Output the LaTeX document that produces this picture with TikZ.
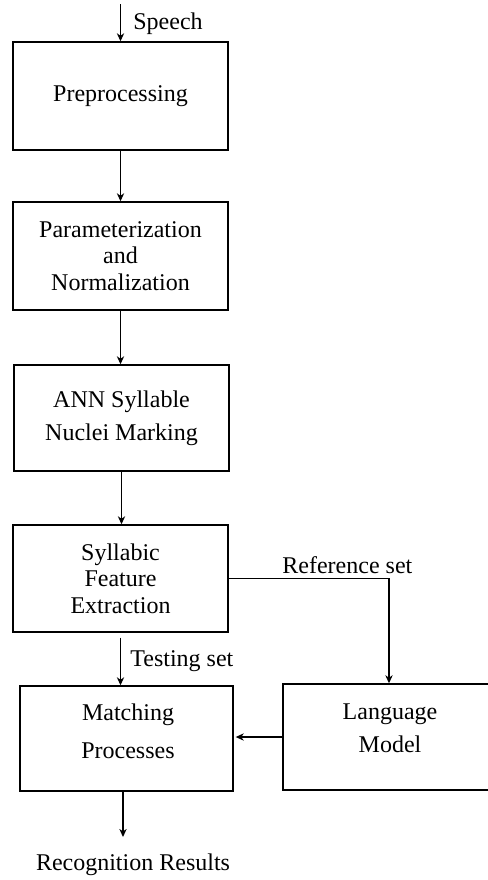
\documentclass[tikz,border=0pt]{standalone}
\usepackage{fontspec}
\setmainfont{Liberation Serif}
\usetikzlibrary{arrows.meta,calc}
\begin{document}
\begin{tikzpicture}[x=0.5pt,y=-0.5pt,
  box/.style={draw, line width=0.7pt, inner sep=0pt, align=center, minimum width=107.5pt, minimum height=54pt, font=\fontsize{12}{13.25}\selectfont},
  lbl/.style={inner sep=0pt, font=\fontsize{12}{13.25}\selectfont},
  arr/.style={draw, line width=0.7pt, -{Stealth[length=4pt,width=3.6pt,inset=1.2pt]}}]
\useasboundingbox (0,0) rectangle (488,880);

\node[box] (pre) at (120.5,96) {Preprocessing};
\node[box] (param) at (120.5,256) {Parameterization\\and\\Normalization};
\node[box, minimum height=53pt] (ann) at (121.5,418) {ANN Syllable\\[3.25pt]Nuclei Marking};
\node[box, minimum height=53.5pt] (syll) at (120.5,578.5) {Syllabic\\Feature\\Extraction};
\node[box, minimum width=106.5pt, minimum height=52.5pt] (match) at (126.5,738.5) {};
\node[lbl, align=center] (matchtxt) at (128,731) {Matching\\[5.75pt]Processes};
\node[box, minimum width=106pt, minimum height=53pt] (lang) at (389,737) {};
\node[lbl, align=center] (langtxt) at (390,728.5) {Language\\[3.25pt]Model};

\coordinate (src) at (120.5,4);
\draw[arr] (src) -- (pre.north);
\node[lbl, anchor=base west] (speech) at (133,29) {Speech};
\draw[arr] (pre.south) -- (param.north);
\draw[arr] (param.south) -- (param.south |- ann.north);
\draw[arr] (ann.south) -- (ann.south |- syll.north);
\draw[arr] (syll.east) -| (lang.north);
\node[lbl, anchor=base west] (refl) at (282,573) {Reference set};
\draw[arr, shorten <=2.5pt] (syll.south) -- (syll.south |- match.north);
\node[lbl, anchor=base west] (testl) at (130,666) {Testing set};
\draw[arr, shorten >=1pt] (lang.west) -- (lang.west -| match.east);
\coordinate (out) at (123,837);
\draw[arr] (match.south -| out) -- (out);
\node[lbl, anchor=base] (res) at (133,870) {Recognition Results};
\end{tikzpicture}
\end{document}
